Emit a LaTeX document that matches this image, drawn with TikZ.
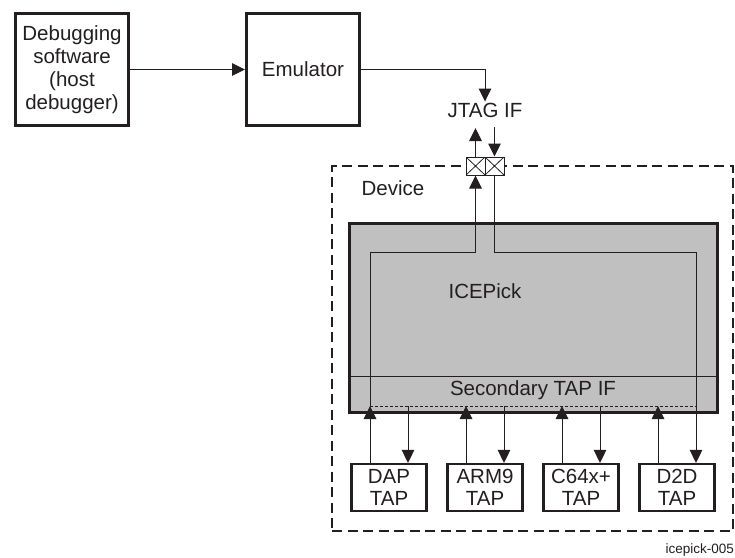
\documentclass[tikz,border=0pt]{standalone}
\usepackage{fontspec}
\setmainfont{Liberation Sans}
\usetikzlibrary{arrows.meta}
\definecolor{ink}{HTML}{231F20}
\definecolor{chip}{HTML}{C0C0C0}
\begin{document}
\begin{tikzpicture}[x=1pt,y=-1pt,
  every node/.style={text=ink,font=\fontsize{20.5}{23}\selectfont},
  bigbox/.style={draw=ink,line width=3pt,inner sep=0pt,align=center,minimum width=113pt,minimum height=112pt},
  tapbox/.style={draw=ink,line width=2.2pt,inner sep=0pt,align=center,minimum width=75pt,minimum height=47pt,fill=white,font=\fontsize{20.5}{21.5}\selectfont},
  pinbox/.style={draw=ink,line width=1pt,fill=white,inner sep=0pt,minimum width=19pt,minimum height=18pt,
    path picture={\draw[line width=0.8pt] (path picture bounding box.south west) -- (path picture bounding box.north east)
      (path picture bounding box.north west) -- (path picture bounding box.south east);}},
  arr/.style={draw=ink,line width=1pt,-{Triangle[length=13pt,width=12.5pt]}},
  wire/.style={draw=ink,line width=1pt},
]
\useasboundingbox (0,0) rectangle (735,557);
% top boxes
\node[bigbox] (dbg) at (72,69.5) {Debugging\\software\\(host\\debugger)};
\node[bigbox] (emu) at (303,69.5) {Emulator};
\draw[arr] (dbg.east) -- (emu.west);
\node[inner sep=1pt] (jtag) at (485,110) {JTAG IF};
\draw[arr] (emu.east) -| (jtag.north);
% device
\node[draw=ink,line width=2pt,dash pattern=on 10pt off 5.5pt,minimum width=401pt,minimum height=365pt,inner sep=0pt] (dev) at (532.5,348.5) {};
\node (devlbl) at (393,188) {Device};
% pins
\node[pinbox] (pinL) at (475.5,166) {};
\node[pinbox] (pinR) at (494.5,166) {};
\coordinate (jtagup) at (475.5,128);
\coordinate (jtagdn) at (494.5,127);
\draw[arr] (pinL.north) -- (jtagup);
\draw[arr] (jtagdn) -- (pinR.north);
% ICEPick
\node[draw=ink,fill=chip,line width=3pt,minimum width=368pt,minimum height=189pt,inner sep=0pt] (ice) at (533,317.5) {};
\node (icelbl) at (485,291) {ICEPick};
\coordinate (secy) at (0,376);
\draw[wire] (ice.west |- secy) -- (ice.east |- secy);
\node (sec) at (533,390) {Secondary TAP IF};
% TAPs
\node[tapbox] (dap) at (389,487.5) {DAP\\TAP};
\node[tapbox] (arm) at (485,487.5) {ARM9\\TAP};
\node[tapbox] (c64) at (581,487.5) {C64x+\\TAP};
\node[tapbox] (d2d) at (677,487.5) {D2D\\TAP};
\coordinate (bus) at (0,406);
\coordinate (loop) at (0,252);
\draw[draw=ink,line width=0.8pt,dash pattern=on 3pt off 2pt] ([xshift=-19pt]dap.north |- bus) -- ([xshift=19pt]d2d.north |- bus);
% outer loop
\draw[arr] ([xshift=-19pt]dap.north |- bus) -- ([xshift=-19pt]dap.north |- loop) -| (pinL.south);
\draw[arr] (pinR.south) |- ([xshift=19pt]d2d.north |- loop) -- ([xshift=19pt]d2d.north);
% bus arrows
\foreach \t in {dap,arm,c64,d2d} {
  \draw[arr] ([xshift=-19pt]\t.north) -- ([xshift=-19pt]\t.north |- bus);
}
\foreach \t in {dap,arm,c64} {
  \draw[arr] ([xshift=19pt]\t.north |- bus) -- ([xshift=19pt]\t.north);
}
\node[anchor=base east,inner sep=0pt,font=\fontsize{13.5}{15}\selectfont] (fig) at (734,553) {icepick-005};
\end{tikzpicture}
\end{document}
